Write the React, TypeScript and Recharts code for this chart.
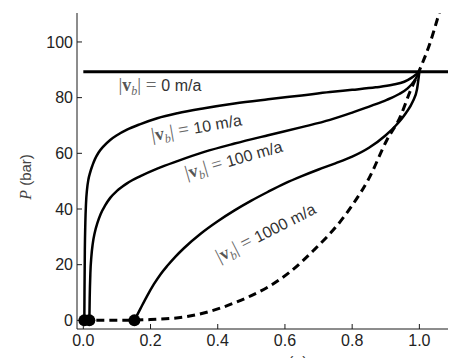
import React from 'react';
import { ComposedChart, Line, Scatter, XAxis, YAxis, ReferenceDot } from 'recharts';

// Axis ticks
const xTicks = [0, 0.2, 0.4, 0.6, 0.8, 1.0];
const yTicks = [0, 20, 40, 60, 80, 100];

// Basal sliding speeds (m/a) for the labelled curves
const speeds = [0, 10, 100, 1000];

// |v_b| = 0 m/a : flotation pressure, flat
const curve0 = [
  { x: 0, P: 89.3 },
  { x: 1.2, P: 89.3 },
];

// |v_b| = 10 m/a
const curve10 = [
  { x: 0.003, P: 0 }, { x: 0.0035, P: 10 }, { x: 0.0045, P: 25 }, { x: 0.006, P: 35 },
  { x: 0.008, P: 42 }, { x: 0.011, P: 47 }, { x: 0.015, P: 50.5 }, { x: 0.02, P: 53 },
  { x: 0.027, P: 55.6 }, { x: 0.035, P: 58 }, { x: 0.045, P: 60.2 }, { x: 0.06, P: 62.5 },
  { x: 0.08, P: 64.8 }, { x: 0.1, P: 66.5 }, { x: 0.13, P: 68.5 }, { x: 0.17, P: 70.5 },
  { x: 0.22, P: 72.6 }, { x: 0.28, P: 74.4 }, { x: 0.36, P: 76.2 }, { x: 0.45, P: 77.9 },
  { x: 0.55, P: 79.4 }, { x: 0.65, P: 80.8 }, { x: 0.734, P: 82 }, { x: 0.8, P: 82.8 },
  { x: 0.87, P: 83.7 }, { x: 0.92, P: 84.6 }, { x: 0.955, P: 85.7 }, { x: 0.975, P: 87 },
  { x: 0.99, P: 88.3 }, { x: 1.0, P: 89.3 },
];

// |v_b| = 100 m/a
const curve100 = [
  { x: 0.018, P: 0 }, { x: 0.019, P: 8 }, { x: 0.021, P: 17 }, { x: 0.024, P: 23 },
  { x: 0.028, P: 27.5 }, { x: 0.034, P: 31.5 }, { x: 0.042, P: 35 }, { x: 0.052, P: 38.3 },
  { x: 0.065, P: 41.3 }, { x: 0.08, P: 44 }, { x: 0.1, P: 46.5 }, { x: 0.13, P: 49.2 },
  { x: 0.17, P: 51.8 }, { x: 0.22, P: 54.5 }, { x: 0.28, P: 57.2 }, { x: 0.36, P: 60.5 },
  { x: 0.45, P: 63.5 }, { x: 0.55, P: 66.5 }, { x: 0.65, P: 69.4 }, { x: 0.734, P: 72 },
  { x: 0.804, P: 74.8 }, { x: 0.86, P: 77.2 }, { x: 0.903, P: 79.2 }, { x: 0.94, P: 81.3 },
  { x: 0.965, P: 83.3 }, { x: 0.985, P: 86 }, { x: 1.0, P: 89.3 },
];

// |v_b| = 1000 m/a
const curve1000 = [
  { x: 0.152, P: 0 }, { x: 0.17, P: 4.2 }, { x: 0.19, P: 8.8 }, { x: 0.21, P: 13 },
  { x: 0.23, P: 16.6 }, { x: 0.25, P: 19.6 }, { x: 0.275, P: 23 }, { x: 0.3, P: 26 },
  { x: 0.35, P: 31.2 }, { x: 0.4, P: 35.6 }, { x: 0.45, P: 39.5 }, { x: 0.5, P: 43 },
  { x: 0.55, P: 46.2 }, { x: 0.6, P: 49.2 }, { x: 0.65, P: 51.8 }, { x: 0.7, P: 54.2 },
  { x: 0.75, P: 56.4 }, { x: 0.8, P: 58.8 }, { x: 0.85, P: 62 }, { x: 0.9, P: 66.5 },
  { x: 0.93, P: 70 }, { x: 0.96, P: 74.5 }, { x: 0.98, P: 78.5 }, { x: 0.993, P: 83 },
  { x: 1.0, P: 89.3 },
];

// Dashed envelope
const envelope = [
  { x: 0, P: 0 }, { x: 0.1, P: 0 }, { x: 0.2, P: 0.3 }, { x: 0.3, P: 1.2 },
  { x: 0.37, P: 3 }, { x: 0.45, P: 6.3 }, { x: 0.5, P: 8.9 }, { x: 0.55, P: 12 },
  { x: 0.615, P: 17.4 }, { x: 0.684, P: 25 }, { x: 0.764, P: 35.4 }, { x: 0.804, P: 42 },
  { x: 0.85, P: 51 }, { x: 0.903, P: 64.7 }, { x: 0.943, P: 73.1 }, { x: 0.972, P: 82.1 },
  { x: 1.0, P: 89.8 }, { x: 1.03, P: 99 }, { x: 1.057, P: 109.6 }, { x: 1.07, P: 115 },
];

// Starting points of the sliding curves
const startPoints = [
  { x: 0.003, P: 0 },
  { x: 0.018, P: 0 },
  { x: 0.152, P: 0 },
];

// Where each curve label sits (data coords) and its tilt
const labelLayout = [
  { x: 0.228, P: 84.1, angle: 0 },
  { x: 0.337, P: 69, angle: -10 },
  { x: 0.448, P: 57.5, angle: -16 },
  { x: 0.544, P: 31.3, angle: -27 },
];

const SANS = "'Liberation Sans', Arial, Helvetica, sans-serif";
const SERIF = "'Liberation Serif', 'Times New Roman', serif";
const INK = '#1a1a1a';

const CurveLabel = (props: any) => {
  const { cx, cy, angle, speed } = props;
  if (cx == null || cy == null) return null;
  return (
    <text
      x={cx}
      y={cy + 5}
      textAnchor="middle"
      transform={`rotate(${angle} ${cx} ${cy})`}
      fontSize={16}
      fill="#333"
    >
      <tspan fontFamily={SERIF} fontSize={19} fill="#666">|</tspan>
      <tspan fontFamily={SERIF} fontSize={18} fontWeight="bold" fill="#555">v</tspan>
      <tspan fontFamily={SERIF} fontStyle="italic" fontSize={12} dy={4} fill="#666">b</tspan>
      <tspan fontFamily={SERIF} fontSize={19} dy={-4} fill="#666">{'| = '}</tspan>
      <tspan fontFamily={SANS} fontSize={16}>{`${speed} m/a`}</tspan>
    </text>
  );
};

const StartDot = (props: any) => {
  const { cx, cy } = props;
  return <circle cx={cx} cy={cy} r={6} fill="#000" />;
};

const YLabel = (props: any) => {
  const vb = props.viewBox || { x: 0, y: 0, width: 0, height: 0 };
  const cx = vb.x + 23;
  const cy = vb.y + vb.height / 2 + 6;
  return (
    <text
      x={cx}
      y={cy}
      textAnchor="middle"
      transform={`rotate(-90 ${cx} ${cy})`}
      fontSize={15}
      fill="#444"
    >
      <tspan fontFamily={SERIF} fontStyle="italic" fontSize={16}>P</tspan>
      <tspan fontFamily={SANS}>{' (bar)'}</tspan>
    </text>
  );
};

const XLabel = (props: any) => {
  const vb = props.viewBox || { x: 0, y: 0, width: 0, height: 0 };
  const cx = 284;
  const cy = vb.y + 39;
  return (
    <text x={cx} y={cy} textAnchor="middle" fontSize={16} fill="#444">
      <tspan fontFamily={SERIF} fontStyle="italic">x</tspan>
      <tspan fontFamily={SANS}>{' (–)'}</tspan>
    </text>
  );
};

export default function App() {
  const tickStyle = { fontSize: 16, fill: '#222', fontFamily: SANS };
  const axisLine = { stroke: INK, strokeWidth: 1 };
  const domainX: [number, number] = [-0.0188, 1.109];
  const domainY: [number, number] = [-3.1, 110.4];
  return (
    <ComposedChart
      width={448}
      height={350}
      margin={{ top: 5, right: 0, bottom: 0, left: 0 }}
    >
      <XAxis
        dataKey="x"
        type="number"
        domain={domainX}
        allowDataOverflow
        ticks={xTicks}
        tickFormatter={(v: number) => v.toFixed(1)}
        tick={tickStyle}
        tickSize={-5}
        tickMargin={11}
        axisLine={axisLine}
        tickLine={axisLine}
        height={29}
        label={{ content: <XLabel /> }}
      />
      <XAxis
        xAxisId="top"
        orientation="top"
        dataKey="x"
        type="number"
        domain={domainX}
        allowDataOverflow
        ticks={xTicks}
        tick={false}
        tickSize={-5}
        axisLine={axisLine}
        tickLine={axisLine}
        height={0}
      />
      <YAxis
        dataKey="P"
        type="number"
        domain={domainY}
        allowDataOverflow
        ticks={yTicks}
        tick={tickStyle}
        tickSize={-5}
        tickMargin={9}
        axisLine={axisLine}
        tickLine={axisLine}
        width={69}
        label={{ content: <YLabel /> }}
      />
      <Line data={envelope} dataKey="P" type="monotone" stroke="#000" strokeWidth={3} strokeDasharray="8 5" dot={false} isAnimationActive={false} />
      <Line data={curve0} dataKey="P" type="linear" stroke="#000" strokeWidth={3} dot={false} isAnimationActive={false} />
      <Line data={curve10} dataKey="P" type="monotone" stroke="#000" strokeWidth={2.5} dot={false} isAnimationActive={false} />
      <Line data={curve100} dataKey="P" type="monotone" stroke="#000" strokeWidth={2.5} dot={false} isAnimationActive={false} />
      <Line data={curve1000} dataKey="P" type="monotone" stroke="#000" strokeWidth={2.5} dot={false} isAnimationActive={false} />
      <Scatter data={startPoints} dataKey="P" shape={<StartDot />} isAnimationActive={false} />
      {speeds.map((s, i) => (
        <ReferenceDot
          key={s}
          x={labelLayout[i].x}
          y={labelLayout[i].P}
          ifOverflow="visible"
          shape={(p: any) => <CurveLabel {...p} angle={labelLayout[i].angle} speed={s} />}
        />
      ))}
    </ComposedChart>
  );
}
